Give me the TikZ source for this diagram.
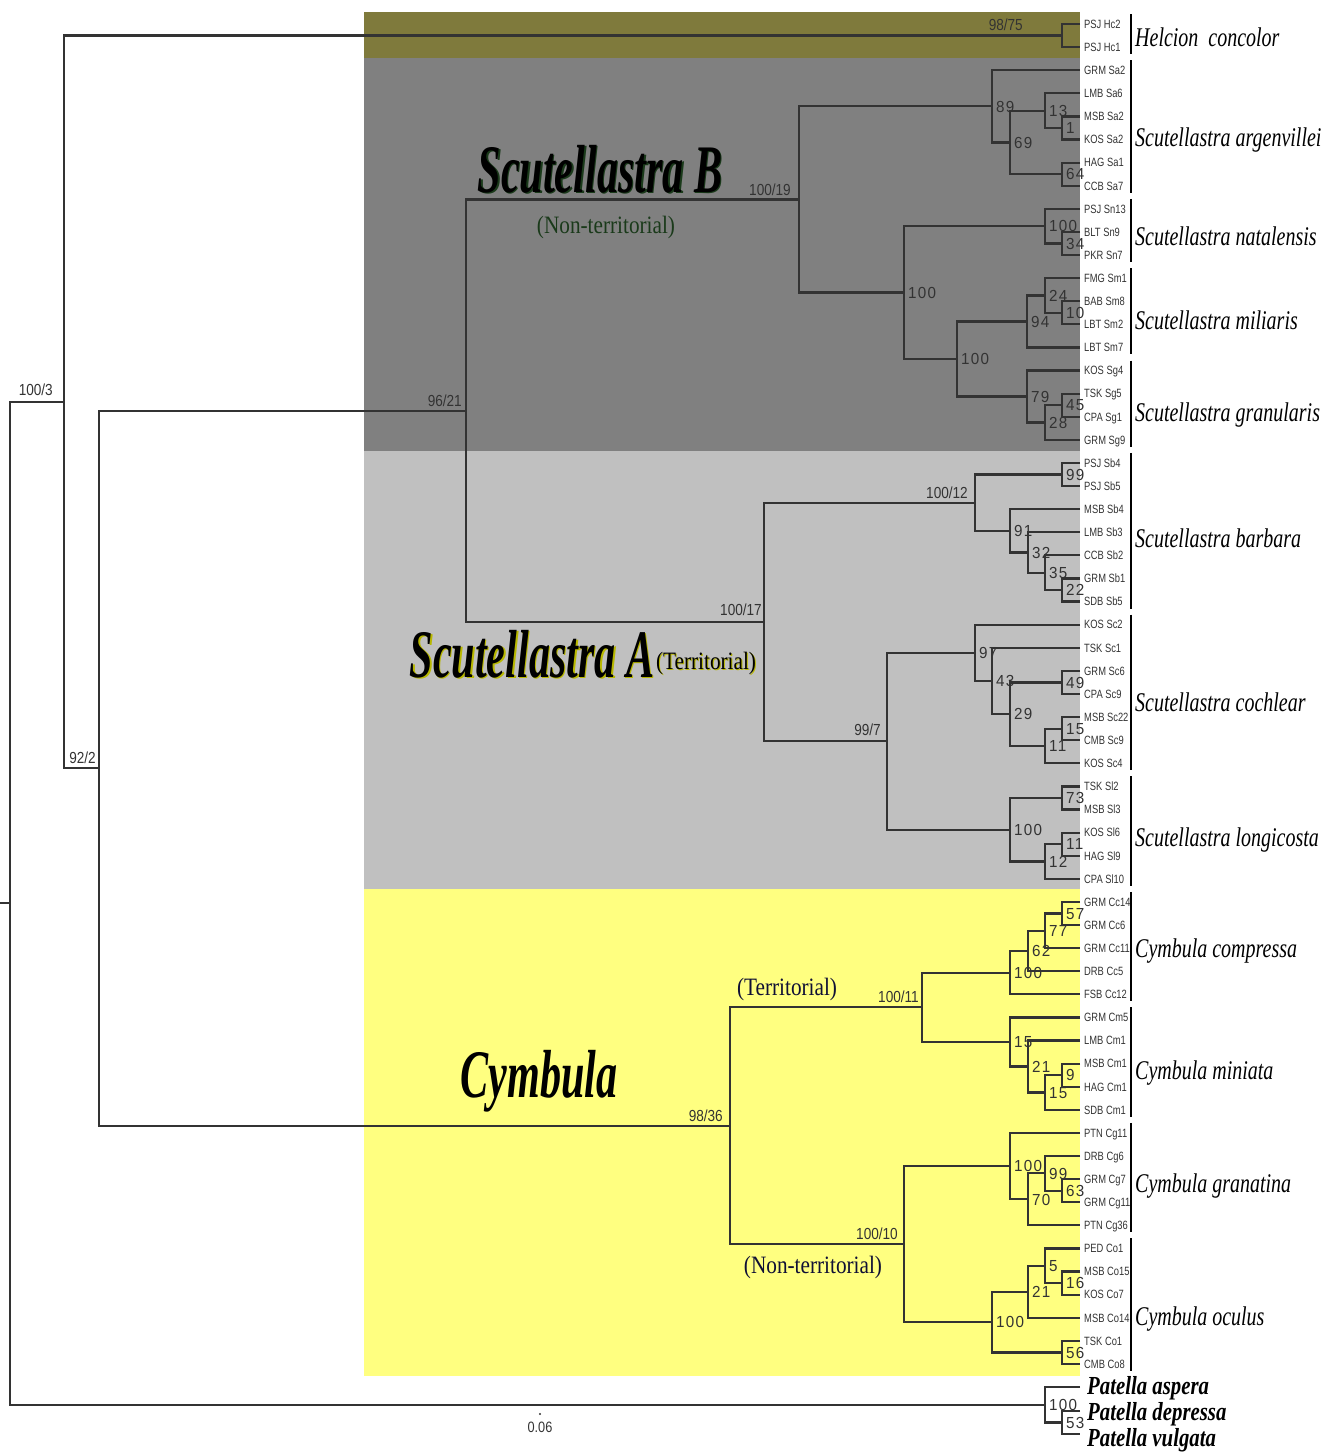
\documentclass[tikz,border=0pt]{standalone}
\usepackage{fontspec}
\setmainfont{Liberation Serif}
\newfontfamily\tipf[FakeStretch=0.78]{Liberation Sans}
\newfontfamily\bsf[FakeStretch=0.95,LetterSpace=8]{Liberation Sans}
\newfontfamily\slf[FakeStretch=0.85]{Liberation Sans}
\newfontfamily\spf[FakeStretch=0.74]{Liberation Serif}
\newfontfamily\bigf[FakeStretch=0.62]{Liberation Serif}
\newfontfamily\patf[FakeStretch=0.8]{Liberation Serif}
\newfontfamily\parf[FakeStretch=0.85]{Liberation Serif}
\usetikzlibrary{calc}
\definecolor{lc}{HTML}{333333}
\definecolor{olivebg}{HTML}{7F7A3C}
\definecolor{darkbg}{HTML}{808080}
\definecolor{lightbg}{HTML}{C0C0C0}
\definecolor{yellowbg}{HTML}{FFFF80}
\definecolor{grn}{HTML}{1A3A1A}
\definecolor{ylw}{HTML}{B8B800}
\definecolor{navy}{HTML}{101035}
\tikzset{
  br/.style={draw=lc, line width=2.2pt},
  bar/.style={draw=black, line width=2pt},
  tip/.style={anchor=base west, inner sep=0pt, text=lc, font=\tipf\fontsize{12}{12}\selectfont},
  bs/.style={anchor=base west, inner sep=0pt, text=lc, font=\bsf\fontsize{16}{16}\selectfont},
  sl/.style={anchor=south east, inner sep=0pt, text=lc, font=\slf\fontsize{16}{16}\selectfont},
  spn/.style={anchor=base west, inner sep=0pt, text=black, font=\spf\itshape\fontsize{27}{27}\selectfont},
  big/.style={anchor=base, inner sep=0pt, font=\bigf\bfseries\itshape\fontsize{68}{68}\selectfont},
  paren/.style={anchor=base, inner sep=0pt, font=\parf\fontsize{25}{25}\selectfont},
  pat/.style={anchor=base west, inner sep=0pt, text=black, font=\patf\bfseries\itshape\fontsize{26}{26}\selectfont},
}
\newcommand\mkclade[5]{%
  \path ($(#3)!0.5!(#4)$) coordinate (tmpc);
  \coordinate (#1) at (#2,0 |- tmpc);
  \draw[br] (#3) -| (#1) |- (#4);
  \if\relax\detokenize{#5}\relax\else
    \node[bs] (l#1) at ([xshift=4pt,yshift=-5.7pt]#1) {#5};
  \fi
}
\begin{document}
\begin{tikzpicture}[x=1pt,y=-1pt]
\useasboundingbox (0,0) rectangle (1325,1456);
% backgrounds
\fill[olivebg] (364,12) rectangle (1080,58);
\fill[darkbg] (364,58) rectangle (1080,451);
\fill[lightbg] (364,451) rectangle (1080,889);
\fill[yellowbg] (364,889) rectangle (1080,1376);
% leaves
\foreach \lab [count=\i from 0] in {PSJ Hc2,PSJ Hc1,GRM Sa2,LMB Sa6,MSB Sa2,KOS Sa2,HAG Sa1,CCB Sa7,PSJ Sn13,BLT Sn9,PKR Sn7,FMG Sm1,BAB Sm8,LBT Sm2,LBT Sm7,KOS Sg4,TSK Sg5,CPA Sg1,GRM Sg9,PSJ Sb4,PSJ Sb5,MSB Sb4,LMB Sb3,CCB Sb2,GRM Sb1,SDB Sb5,KOS Sc2,TSK Sc1,GRM Sc6,CPA Sc9,MSB Sc22,CMB Sc9,KOS Sc4,TSK Sl2,MSB Sl3,KOS Sl6,HAG Sl9,CPA Sl10,GRM Cc14,GRM Cc6,GRM Cc11,DRB Cc5,FSB Cc12,GRM Cm5,LMB Cm1,MSB Cm1,HAG Cm1,SDB Cm1,PTN Cg11,DRB Cg6,GRM Cg7,GRM Cg11,PTN Cg36,PED Co1,MSB Co15,KOS Co7,MSB Co14,TSK Co1,CMB Co8}{
  \pgfmathsetmacro\yy{24+23.103*\i}
  \coordinate (L\i) at (1080,\yy);
  \node[tip] (t\i) at (1084,\yy+4.3) {\lab};
}
\coordinate (P1) at (1080,1387);
\coordinate (P2) at (1080,1411);
\coordinate (P3) at (1080,1434);
% Helcion
\mkclade{hel}{1062}{L0}{L1}{}
% argenvillei
\mkclade{a1}{1062}{L4}{L5}{1}
\mkclade{a13}{1045}{L3}{a1}{13}
\mkclade{a64}{1062}{L6}{L7}{64}
\mkclade{a69}{1010}{a13}{a64}{69}
\mkclade{a89}{992}{L2}{a69}{89}
% natalensis
\mkclade{n34}{1062}{L9}{L10}{34}
\mkclade{n100}{1045}{L8}{n34}{100}
% miliaris
\mkclade{m10}{1062}{L12}{L13}{10}
\mkclade{m24}{1045}{L11}{m10}{24}
\mkclade{m94}{1027}{m24}{L14}{94}
% granularis
\mkclade{g45}{1062}{L16}{L17}{45}
\mkclade{g28}{1045}{g45}{L18}{28}
\mkclade{g79}{1027}{L15}{g28}{79}
\mkclade{mg}{957}{m94}{g79}{100}
\mkclade{nmg}{904}{n100}{mg}{100}
\mkclade{sB}{799}{a89}{nmg}{}
% barbara
\mkclade{b99}{1062}{L19}{L20}{99}
\mkclade{b22}{1062}{L24}{L25}{22}
\mkclade{b35}{1045}{L23}{b22}{35}
\mkclade{b32}{1028}{L22}{b35}{32}
\mkclade{b91}{1010}{L21}{b32}{91}
\mkclade{b100}{975}{b99}{b91}{}
% cochlear
\mkclade{c49}{1062}{L28}{L29}{49}
\mkclade{c15}{1062}{L30}{L31}{15}
\mkclade{c11}{1045}{c15}{L32}{11}
\mkclade{c29}{1010}{c49}{c11}{29}
\mkclade{c43}{992}{L27}{c29}{43}
\mkclade{c97}{975}{L26}{c43}{97}
% longicosta
\mkclade{l73}{1062}{L33}{L34}{73}
\mkclade{l11}{1062}{L35}{L36}{11}
\mkclade{l12}{1045}{l11}{L37}{12}
\mkclade{l100}{1010}{l73}{l12}{100}
\mkclade{cl}{887}{c97}{l100}{}
\mkclade{sA}{764}{b100}{cl}{}
\mkclade{sAB}{466}{sB}{sA}{}
% compressa
\mkclade{cc57}{1062}{L38}{L39}{57}
\mkclade{cc77}{1045}{cc57}{L40}{77}
\mkclade{cc62}{1028}{cc77}{L41}{62}
\mkclade{cc100}{1010}{cc62}{L42}{100}
% miniata
\mkclade{cm9}{1062}{L45}{L46}{9}
\mkclade{cm15b}{1045}{cm9}{L47}{15}
\mkclade{cm21}{1028}{L44}{cm15b}{21}
\mkclade{cm15}{1010}{L43}{cm21}{15}
\mkclade{cT}{922}{cc100}{cm15}{}
% granatina
\mkclade{cg63}{1062}{L50}{L51}{63}
\mkclade{cg99}{1045}{L49}{cg63}{99}
\mkclade{cg70}{1028}{cg99}{L52}{70}
\mkclade{cg100}{1010}{L48}{cg70}{100}
% oculus
\mkclade{co16}{1062}{L54}{L55}{16}
\mkclade{co5}{1045}{L53}{co16}{5}
\mkclade{co21}{1028}{co5}{L56}{21}
\mkclade{co56}{1062}{L57}{L58}{56}
\mkclade{co100}{992}{co21}{co56}{100}
\mkclade{cN}{904}{cg100}{co100}{}
\mkclade{cym}{730}{cT}{cN}{}
\mkclade{ing}{99}{sAB}{cym}{}
\mkclade{ig}{64}{hel}{ing}{}
% Patella
\mkclade{p53}{1062}{P2}{P3}{53}
\mkclade{p100}{1045}{P1}{p53}{100}
\mkclade{root}{10}{ig}{p100}{}
\coordinate (rs) at (0,0 |- root);
\draw[br] (rs) -- (root);
% support labels with slash
\node[sl] (s9875) at (1023,31) {98/75};
\node[sl] (s10019) at ([xshift=-8pt,yshift=4pt]sB) {100/19};
\node[sl] (s9621) at ([xshift=-4pt,yshift=4pt]sAB) {96/21};
\node[sl] (s1003) at ([xshift=-11pt,yshift=6pt]ig) {100/3};
\node[sl] (s922) at ([xshift=-3pt,yshift=4pt]ing) {92/2};
\node[sl] (s10017) at ([xshift=-2pt,yshift=6pt]sA) {100/17};
\node[sl] (s10012) at ([xshift=-7pt,yshift=4pt]b100) {100/12};
\node[sl] (s997) at ([xshift=-6pt,yshift=5pt]cl) {99/7};
\node[sl] (s10011) at ([xshift=-3pt,yshift=4pt]cT) {100/11};
\node[sl] (s9836) at ([xshift=-7pt,yshift=4pt]cym) {98/36};
\node[sl] (s10010) at ([xshift=-6pt,yshift=4pt]cN) {100/10};
% bars
\foreach \a/\b in {0/1,2/7,8/10,11/14,15/18,19/25,26/32,33/37,38/42,43/47,48/52,53/58}{
  \draw[bar] (1131,{24+23.103*\a-10}) -- (1131,{24+23.103*\b+7});
}
% species names
\node[spn] (sp1) at (1135,46) {Helcion~~concolor};
\node[spn] (sp2) at (1135,146) {Scutellastra argenvillei};
\node[spn] (sp3) at (1135,245) {Scutellastra natalensis};
\node[spn] (sp4) at (1135,329) {Scutellastra miliaris};
\node[spn] (sp5) at (1135,421) {Scutellastra granularis};
\node[spn] (sp6) at (1135,547) {Scutellastra barbara};
\node[spn] (sp7) at (1135,711) {Scutellastra cochlear};
\node[spn] (sp8) at (1135,846) {Scutellastra longicosta};
\node[spn] (sp9) at (1135,957) {Cymbula compressa};
\node[spn] (sp10) at (1135,1079) {Cymbula miniata};
\node[spn] (sp11) at (1135,1192) {Cymbula granatina};
\node[spn] (sp12) at (1135,1325) {Cymbula oculus};
\node[pat] (pa1) at (1087,1394) {Patella aspera};
\node[pat] (pa2) at (1087,1420) {Patella depressa};
\node[pat] (pa3) at (1087,1446) {Patella vulgata};
% group titles
\node[big, text=grn] (sBs) at (601.5,193.5) {Scutellastra B};
\node[big, text=black] (sBt) at (600,192) {Scutellastra B};
\node[paren, text=grn] (sBp) at (606,233) {(Non-territorial)};
\node[big, text=ylw] (sAs) at (533.5,678.5) {Scutellastra A};
\node[big, text=black] (sAt) at (532,677) {Scutellastra A};
\node[paren, text=ylw] (sAps) at (707,670) {(Territorial)};
\node[paren, text=black] (sAp) at (706,669) {(Territorial)};
\node[big, text=black] (cyt) at (539,1097) {Cymbula};
\node[paren, text=navy] (cyp1) at (787,995) {(Territorial)};
\node[paren, text=navy] (cyp2) at (813,1273) {(Non-territorial)};
% scale
\fill[lc] (540,1414) circle (1.2);
\node[anchor=base, inner sep=0pt, text=lc, font=\slf\fontsize{15}{15}\selectfont] (scl) at (540,1432) {0.06};
\end{tikzpicture}
\end{document}
